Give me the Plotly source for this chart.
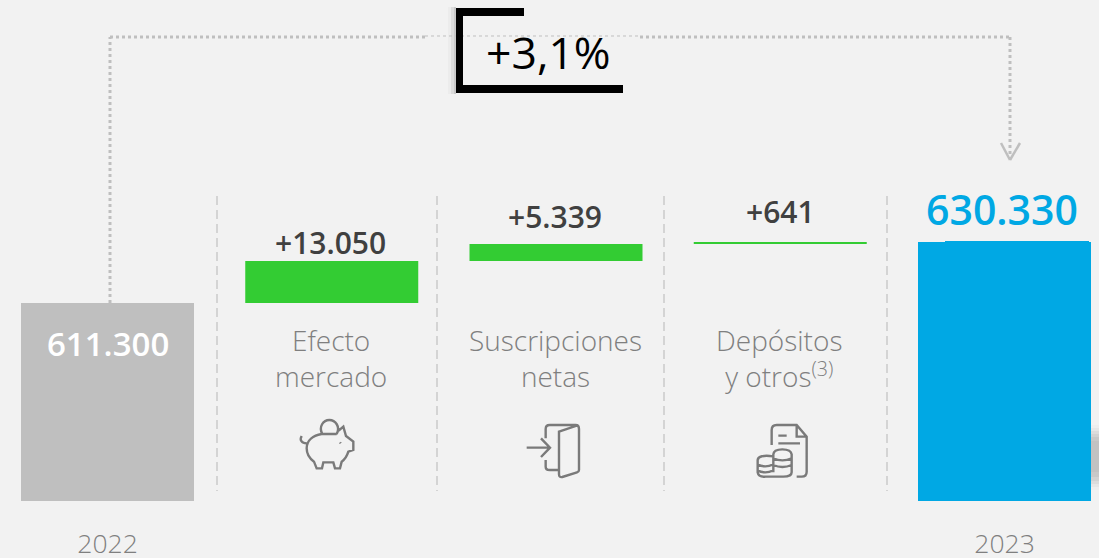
import re
import plotly.graph_objects as go

W, H = 1099, 558
PLOT_BOTTOM = 501

categories = ["2022", "Efecto mercado", "Suscripciones netas", "Depósitos y otros", "2023"]
bar_bases = [549500, 611300, 624350, 629689, 549500]
bar_heights = [61800, 13050, 5339, 641, 80830]
bar_colors = ["#bfbfbf", "#33cc33", "#33cc33", "#33cc33", "#00a8e4"]
value_labels = ["611.300", "+13.050", "+5.339", "+641", "630.330"]
axis_ticks = [0, 4]
axis_labels = ["2022", "2023"]
step_labels = ["", "Efecto<br>mercado", "Suscripciones<br>netas", "Depósitos<br>y otros<sup>(3)</sup>", ""]
growth_label = "+3,1%"

FONT = "Open Sans"


def px(x):
    return x / W


def py(y):
    return (PLOT_BOTTOM - y) / PLOT_BOTTOM


def line(x0, y0, x1, y1, color, width, dash="solid"):
    return dict(type="line", xref="paper", yref="paper", x0=px(x0), x1=px(x1), y0=py(y0), y1=py(y1),
                line=dict(color=color, width=width, dash=dash))


def rect(x0, y0, x1, y1, color):
    return dict(type="rect", xref="paper", yref="paper", x0=px(x0), x1=px(x1), y0=py(y0), y1=py(y1),
                fillcolor=color, line=dict(width=0))


def icon(path, ox, oy, color="#7a7a7a", width=2.4):
    def conv(m):
        u, v = float(m.group(1)), float(m.group(2))
        return f"{px(ox + u / 3):.5f},{py(oy + v / 3):.5f}"
    return dict(type="path", xref="paper", yref="paper", path=re.sub(r"(-?[\d.]+),(-?[\d.]+)", conv, path),
                line=dict(color=color, width=width))


PIG = ("M95,72 C70,76 50,90 50,115 C50,135 62,148 72,155 L80,175 L96,175 L100,157 L130,157 L135,175 L150,175 "
       "L155,155 C165,148 172,135 175,125 L190,120 L190,95 L168,78 L160,50 L146,62 "
       "M95,72 L140,72 M97,72 C85,50 100,30 118,30 C136,30 152,50 140,72 "
       "M50,100 C35,100 28,90 35,78 M150,97 L152,100")
DOOR = ("M35,98 L105,98 M78,70 L105,98 L78,126 "
        "M92,70 L92,42 Q92,30 104,30 L182,30 Q192,30 192,42 "
        "M132,50 L185,32 Q192,32 192,42 L192,165 Q192,170 186,172 L142,186 Q132,188 132,178 Z "
        "M92,135 L92,155 Q92,165 104,165 L132,165")
DOCS = ("M80,90 L80,45 Q80,30 95,30 L155,30 L185,65 L185,170 Q185,185 170,185 L155,185 "
        "M155,32 L155,65 L185,65 M100,62 L125,62 M100,85 L165,85 "
        "M85,124 Q40,118 38,135 L38,172 Q40,186 62,185 L115,185 Q140,185 140,172 L140,118 "
        "Q138,103 112,103 Q86,103 85,118 L85,172 "
        "M38,148 Q60,160 85,148 M38,166 Q60,178 85,166 M85,130 Q112,142 140,130 M85,150 Q112,162 140,150")

shapes = []
# shadows
for (y0, y1, c) in [(425, 490, "#eeeeee"), (428, 487, "#e6e6e6"), (431, 484, "#dcdcdc"), (434, 481, "#d2d2d2"),
                    (437, 477, "#c8c8c8"), (441, 472, "#c2c2c2")]:
    shapes.append(rect(1091, y0, 1099, y1, c))
shapes += [rect(448, 7, 451, 94, "#ececec"), rect(451, 7, 454, 94, "#dcdcdc"), rect(454, 7, 456, 94, "#c8c8c8")]
# connector
DOT = "#bfbfbf"
shapes += [line(110, 303, 110, 37, DOT, 3, "dot"), line(110, 37, 425, 37, DOT, 3, "dot"),
           line(425, 36, 640, 36, DOT, 1, "3px,3px"), line(640, 37, 1010, 37, DOT, 3, "dot"),
           line(1010, 37, 1010, 158, DOT, 3, "dot"),
           line(1001, 143, 1010, 160, DOT, 2.5), line(1010, 160, 1020, 143, DOT, 2.5)]
# separators
for sx in (217, 437, 664, 887):
    shapes.append(line(sx, 196, sx, 491, "#d4d4d4", 2, "9px,5px"))
# bracket
shapes += [rect(456, 8, 463, 93, "#000000"), rect(456, 8, 524, 16, "#000000"), rect(456, 85, 623, 93, "#000000")]
# blue bar cap
shapes.append(rect(945, 241, 1089, 243, "#00a8e4"))
# icons
shapes += [icon(PIG, 290, 410), icon(DOOR, 515, 415), icon(DOCS, 745, 415)]

fig = go.Figure(go.Bar(
    x=list(range(len(categories))), y=bar_heights, base=bar_bases,
    marker=dict(color=bar_colors, line=dict(width=0)), width=173 / 224.25,
    customdata=categories, hovertemplate="%{customdata}<extra></extra>",
))

VALUE_STYLE = [
    dict(size=33, color="#ffffff", shift=-41, xs=0),
    dict(size=30, color="#404040", shift=19, xs=-1),
    dict(size=30, color="#404040", shift=27, xs=-1),
    dict(size=30, color="#404040", shift=30, xs=0),
    dict(size=41, color="#00a8e4", shift=33, xs=-3),
]
annotations = []
for i, (lab, st) in enumerate(zip(value_labels, VALUE_STYLE)):
    annotations.append(dict(x=i, y=bar_bases[i] + bar_heights[i], xref="x", yref="y", text=lab, showarrow=False,
                            yanchor="middle", yshift=st["shift"], xshift=st["xs"],
                            font=dict(family=FONT, size=st["size"], color=st["color"], weight=600)))
for i, lab in enumerate(step_labels):
    if lab:
        annotations.append(dict(x=i, y=py(358), xref="x", yref="paper", text=lab, showarrow=False,
                                yanchor="middle", align="center", xshift=-1,
                                font=dict(family=FONT, size=28, color="#7f7f7f", weight=300)))
annotations.append(dict(x=px(548), y=py(52), xref="paper", yref="paper", text=growth_label, showarrow=False,
                        yanchor="middle", font=dict(family=FONT, size=44.5, color="#000000")))

fig.update_layout(
    width=W, height=H, margin=dict(l=0, r=0, t=0, b=H - PLOT_BOTTOM, pad=0, autoexpand=False),
    paper_bgcolor="#f2f2f2", plot_bgcolor="#f2f2f2", showlegend=False,
    shapes=shapes, annotations=annotations,
    xaxis=dict(range=[-107.5 / 224.25, (W - 107.5) / 224.25], tickmode="array", tickvals=axis_ticks,
               ticktext=axis_labels, showgrid=False, zeroline=False, showline=False, ticks="", automargin=False,
               tickfont=dict(family=FONT, size=26.5, color="#7f7f7f", weight=300), ticklabelstandoff=24),
    yaxis=dict(range=[549500, 549500 + PLOT_BOTTOM * 312], visible=False, automargin=False),
)

fig.write_html("out.html", config=dict(displayModeBar=False),
               post_script="document.body.style.margin='0';document.body.style.background='#f2f2f2';")
